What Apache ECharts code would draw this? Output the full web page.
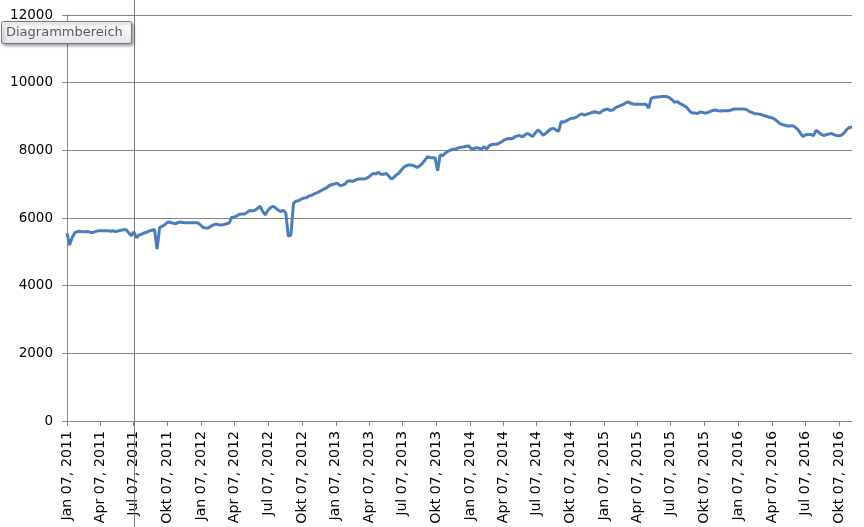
<!DOCTYPE html>
<html>
<head>
<meta charset="utf-8">
<title>Diagramm</title>
<script src="https://cdn.jsdelivr.net/npm/echarts@6/dist/echarts.min.js"></script>
<style>
  html, body { margin: 0; padding: 0; background: #fff; }
  #chart { width: 864px; height: 527px; }
</style>
</head>
<body>
<div id="chart"></div>
<script>
// weekly series, one value per Friday starting here
const firstWeek = '2011-01-07';
const weeklyValues = [
  5550, 5200, 5420, 5560, 5600, 5610, 5590, 5590, 5600, 5580, 5570, 5600, 5620,
  5620, 5620, 5620, 5620, 5610, 5620, 5600, 5620, 5640, 5650, 5650, 5560, 5480,
  5590, 5420, 5500, 5520, 5560, 5580, 5620, 5640, 5660, 5080, 5720, 5760, 5800,
  5870, 5880, 5850, 5830, 5860, 5880, 5870, 5860, 5860, 5860, 5860, 5860, 5850,
  5780, 5720, 5700, 5710, 5760, 5800, 5820, 5800, 5790, 5810, 5830, 5850, 6020,
  6030, 6060, 6110, 6120, 6120, 6170, 6220, 6210, 6230, 6280, 6350, 6200, 6090,
  6220, 6300, 6350, 6300, 6240, 6190, 6230, 6150, 5460, 5500, 6430, 6500, 6510,
  6560, 6590, 6600, 6650, 6670, 6710, 6740, 6780, 6820, 6860, 6900, 6960, 6990,
  7010, 7030, 6960, 6970, 7000, 7090, 7100, 7080, 7120, 7150, 7150, 7150, 7160,
  7200, 7260, 7320, 7300, 7350, 7290, 7290, 7320, 7240, 7150, 7200, 7280, 7330,
  7430, 7510, 7550, 7570, 7560, 7540, 7490, 7540, 7610, 7700, 7810, 7790, 7780,
  7780, 7400, 7860, 7840, 7920, 7970, 8010, 8030, 8040, 8070, 8090, 8100, 8120,
  8130, 8060, 8040, 8080, 8070, 8030, 8110, 8040, 8130, 8170, 8180, 8180, 8210,
  8260, 8310, 8340, 8350, 8340, 8400, 8430, 8430, 8400, 8460, 8500, 8450, 8410,
  8520, 8600, 8540, 8440, 8500, 8570, 8630, 8650, 8600, 8560, 8850, 8830, 8870,
  8910, 8950, 8950, 8980, 9040, 9080, 9040, 9070, 9090, 9120, 9140, 9120, 9100,
  9170, 9200, 9220, 9180, 9190, 9250, 9290, 9320, 9350, 9400, 9430, 9390, 9370,
  9360, 9360, 9360, 9360, 9360, 9250, 9540, 9560, 9580, 9580, 9590, 9590, 9590,
  9560, 9500, 9420, 9440, 9390, 9350, 9310, 9250, 9150, 9100, 9100, 9090, 9130,
  9120, 9100, 9120, 9150, 9180, 9190, 9170, 9160, 9170, 9170, 9170, 9190, 9220,
  9220, 9220, 9220, 9220, 9210, 9150, 9120, 9090, 9080, 9070, 9050, 9020, 9000,
  8980, 8960, 8920, 8860, 8790, 8760, 8740, 8720, 8720, 8730, 8680, 8610, 8500,
  8410, 8460, 8470, 8470, 8430, 8590, 8540, 8470, 8440, 8460, 8480, 8500, 8460,
  8440, 8430, 8450, 8520, 8620, 8680, 8680
];

const tickDates = [
  '2011-01-07', '2011-04-07', '2011-07-07', '2011-10-07',
  '2012-01-07', '2012-04-07', '2012-07-07', '2012-10-07',
  '2013-01-07', '2013-04-07', '2013-07-07', '2013-10-07',
  '2014-01-07', '2014-04-07', '2014-07-07', '2014-10-07',
  '2015-01-07', '2015-04-07', '2015-07-07', '2015-10-07',
  '2016-01-07', '2016-04-07', '2016-07-07', '2016-10-07'
];
const monthNames = ['Jan', 'Feb', 'Mär', 'Apr', 'Mai', 'Jun', 'Jul', 'Aug', 'Sep', 'Okt', 'Nov', 'Dez'];
const cursorDate = '2011-07-07';
const tipText = 'Diagrammbereich';

const DAY = 86400000;
let toTime = function(s){
  let p = s.split('-');
  return Date.UTC(+p[0], +p[1] - 1, +p[2]);
};
let fmtDate = function(t){
  let d = new Date(t);
  let dd = ('0' + d.getUTCDate()).slice(-2);
  return monthNames[d.getUTCMonth()] + ' ' + dd + ', ' + d.getUTCFullYear();
};

let start = toTime(firstWeek);
let seriesData = weeklyValues.map(function(v, i){ return [start + i * 7 * DAY, v]; });
let tickTimes = tickDates.map(toTime);

const gray = '#868686';
const font = 'DejaVu Sans';

let chart = echarts.init(document.getElementById('chart'));
let option = {
  backgroundColor: '#fff',
  animation: false,
  grid: { left: 67, right: 12, top: 15, bottom: 106, containLabel: false },
  xAxis: {
    // dates kept as UTC timestamps on a plain value scale
    type: 'value',
    min: start,
    max: seriesData[seriesData.length - 1][0],
    axisLine: { show: true, onZero: false, lineStyle: { color: gray, width: 1 } },
    axisTick: { show: true, length: 5, customValues: tickTimes, lineStyle: { color: gray } },
    axisLabel: {
      customValues: tickTimes,
      rotate: 90,
      margin: 10,
      fontSize: 14.2,
      fontFamily: font,
      color: '#000',
      formatter: function(v){ return fmtDate(v); }
    },
    splitLine: { show: false }
  },
  yAxis: {
    type: 'value',
    min: 0,
    max: 12000,
    interval: 2000,
    axisLine: { show: true, lineStyle: { color: gray, width: 1 } },
    axisTick: { show: true, length: 5, lineStyle: { color: gray } },
    axisLabel: {
      margin: 14, fontSize: 13.5, fontFamily: font, color: '#000',
      formatter: function(v){ return String(v); }
    },
    splitLine: { show: true, lineStyle: { color: gray, width: 1 } }
  },
  series: [{
    type: 'line',
    data: seriesData,
    showSymbol: false,
    symbol: 'none',
    lineStyle: { color: '#4a7ebb', width: 3 },
    itemStyle: { color: '#4a7ebb' }
  }]
};
chart.setOption(option);

// cursor line and the hover tip from the screenshot
let cx = Math.round(chart.convertToPixel({ xAxisIndex: 0 }, toTime(cursorDate))) + 0.5;
chart.setOption({
  graphic: [
    { type: 'line', z: 100, shape: { x1: cx, y1: 0, x2: cx, y2: 527 }, style: { stroke: '#7a7a7a', lineWidth: 1 } },
    {
      type: 'rect', z: 101, shape: { x: 1.5, y: 21.5, width: 130, height: 22, r: 2 },
      style: {
        fill: new echarts.graphic.LinearGradient(0, 0, 0, 1, [
          { offset: 0, color: '#ffffff' }, { offset: 1, color: '#e3e4ee' }
        ]),
        stroke: '#767676', lineWidth: 1,
        shadowBlur: 3, shadowColor: 'rgba(0,0,0,0.35)', shadowOffsetX: 2, shadowOffsetY: 2
      }
    },
    {
      type: 'text', z: 102, x: 6, y: 32.5,
      style: { text: tipText, font: '13px "' + font + '"', fill: '#5a5a5a', verticalAlign: 'middle' }
    }
  ]
});
</script>
</body>
</html>
